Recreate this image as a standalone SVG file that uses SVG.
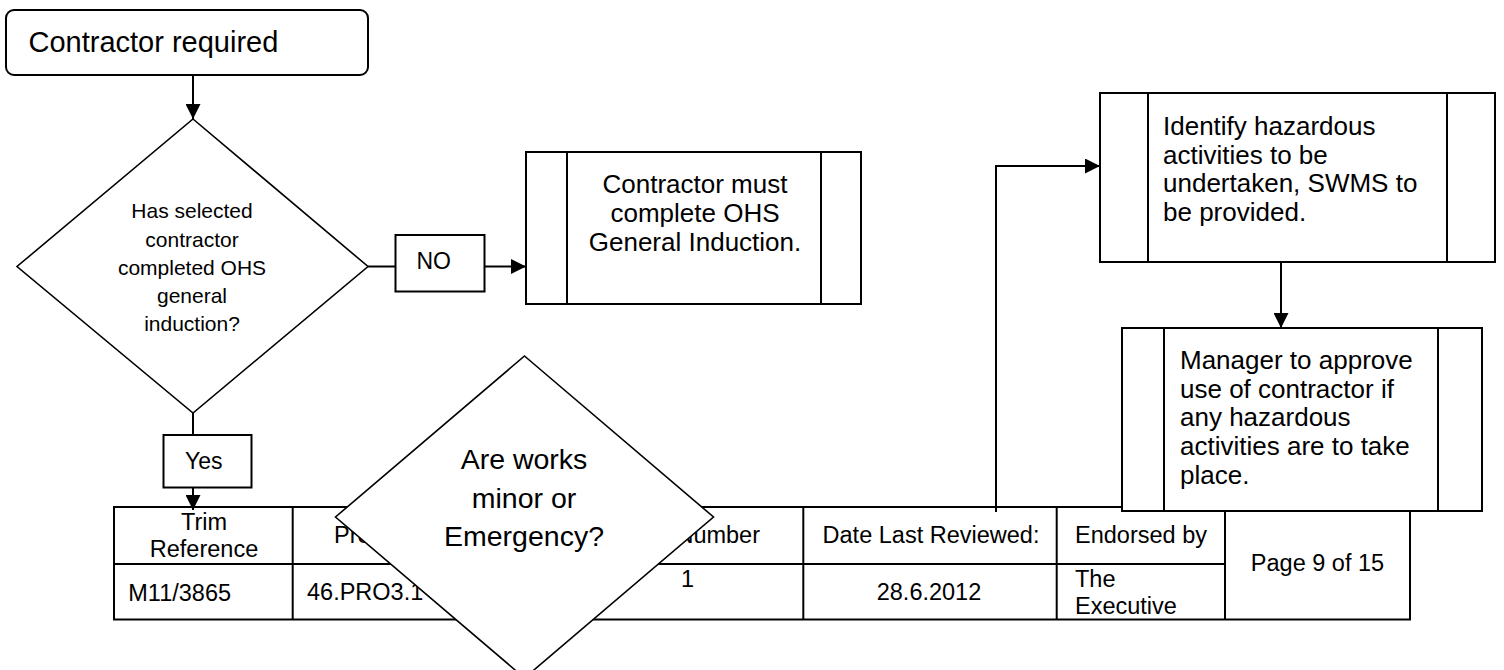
<svg xmlns="http://www.w3.org/2000/svg" width="1504" height="670" viewBox="0 0 1504 670">
<style>
text{font-family:"Liberation Sans",Arial,sans-serif;fill:#000}
.box{fill:#fff;stroke:#000;stroke-width:2}
.dia{fill:#fff;stroke:#000;stroke-width:1.6}
.ln{fill:none;stroke:#000;stroke-width:2}
.conn{fill:none;stroke:#000;stroke-width:2}
.t26{font-size:26px}
.t21{font-size:21px;text-anchor:middle}
.t23{font-size:23px}
.tb{font-size:23.5px}
.mid{text-anchor:middle}
</style>
<defs>
<marker id="arr" viewBox="0 0 15 15" refX="15" refY="7.5" markerWidth="15" markerHeight="15" markerUnits="userSpaceOnUse" orient="auto">
<path d="M0,0 L15,7.5 L0,15 z" fill="#000"/>
</marker>
</defs>
<rect width="1504" height="670" fill="#fff"/>

<g id="table">
<rect class="ln" x="114" y="507" width="1296" height="112.5"/>
<line class="ln" x1="114" y1="564" x2="1225" y2="564"/>
<line class="ln" x1="292.7" y1="507" x2="292.7" y2="619.5"/>
<line class="ln" x1="572" y1="507" x2="572" y2="619.5"/>
<line class="ln" x1="803.3" y1="507" x2="803.3" y2="619.5"/>
<line class="ln" x1="1056.7" y1="507" x2="1056.7" y2="619.5"/>
<line class="ln" x1="1225" y1="507" x2="1225" y2="619.5"/>
<text class="tb mid" x="204" y="530">Trim</text>
<text class="tb mid" x="204" y="557">Reference</text>
<text class="tb" x="128.3" y="601">M11/3865</text>
<text class="tb" x="334" y="543">Pro</text>
<text class="tb" x="307" y="600">46.PRO3.1</text>
<text class="tb" x="760" y="543" text-anchor="end">Number</text>
<text class="tb mid" x="687.5" y="587">1</text>
<text class="tb mid" x="931" y="543">Date Last Reviewed:</text>
<text class="tb mid" x="929" y="600">28.6.2012</text>
<text class="tb mid" x="1141" y="543">Endorsed by</text>
<text class="tb" x="1075" y="587">The</text>
<text class="tb" x="1075" y="614">Executive</text>
<text class="tb mid" x="1317.5" y="571">Page 9 of 15</text>
</g>

<g id="connectors">
<path class="conn" d="M193,75 L193,119" marker-end="url(#arr)"/>
<path class="conn" d="M368,266.5 L396,266.5"/>
<path class="conn" d="M485,266.5 L526,266.5" marker-end="url(#arr)"/>
<path class="conn" d="M193,413 L193,435"/>
<path class="conn" d="M193,487.5 L193,510" marker-end="url(#arr)"/>
<path class="conn" d="M996,512 L996,166 L1100,166" marker-end="url(#arr)"/>
<path class="conn" d="M1281,262 L1281,328" marker-end="url(#arr)"/>
</g>

<g id="start">
<rect class="box" x="6" y="10" width="362" height="65" rx="8"/>
<text x="28.5" y="51.7" style="font-size:29px">Contractor required</text>
</g>

<g id="decision1">
<polygon class="dia" points="193,119 368,266.5 193,413 17,266.5"/>
<text class="t21" x="192" y="218.3">Has selected</text>
<text class="t21" x="192" y="246.5">contractor</text>
<text class="t21" x="192" y="274.7">completed OHS</text>
<text class="t21" x="192" y="302.7">general</text>
<text class="t21" x="192" y="330.5">induction?</text>
</g>

<g id="labelNo">
<rect class="box" x="395.5" y="235" width="89" height="56.5"/>
<text class="t23" x="416.5" y="269.3">NO</text>
</g>

<g id="process1">
<rect class="box" x="526" y="152" width="335" height="152"/>
<line class="ln" x1="567" y1="152" x2="567" y2="304"/>
<line class="ln" x1="821" y1="152" x2="821" y2="304"/>
<text class="t26 mid" x="695" y="193.3">Contractor must</text>
<text class="t26 mid" x="695" y="222">complete OHS</text>
<text class="t26 mid" x="695" y="250.5">General Induction.</text>
</g>

<g id="labelYes">
<rect class="box" x="163.5" y="435" width="88" height="52.5"/>
<text class="t23" x="185" y="469">Yes</text>
</g>

<g id="decision2">
<polygon class="dia" points="524.5,356 713.5,517 524.5,678 335.5,517"/>
<text class="mid" x="524" y="469.3" style="font-size:28.5px">Are works</text>
<text class="mid" x="524" y="507.5" style="font-size:28.5px">minor or</text>
<text class="mid" x="524" y="545.5" style="font-size:28.5px">Emergency?</text>
</g>

<g id="process2">
<rect class="box" x="1100" y="93" width="395" height="169"/>
<line class="ln" x1="1148" y1="93" x2="1148" y2="262"/>
<line class="ln" x1="1447" y1="93" x2="1447" y2="262"/>
<text class="t26" x="1163" y="135">Identify hazardous</text>
<text class="t26" x="1163" y="163.7">activities to be</text>
<text class="t26" x="1163" y="192.4">undertaken, SWMS to</text>
<text class="t26" x="1163" y="221.1">be provided.</text>
</g>

<g id="process3">
<rect class="box" x="1122" y="328" width="360" height="183"/>
<line class="ln" x1="1164" y1="328" x2="1164" y2="511"/>
<line class="ln" x1="1438" y1="328" x2="1438" y2="511"/>
<text class="t26" x="1180" y="369">Manager to approve</text>
<text class="t26" x="1180" y="397.7">use of contractor if</text>
<text class="t26" x="1180" y="426.4">any hazardous</text>
<text class="t26" x="1180" y="455.1">activities are to take</text>
<text class="t26" x="1180" y="483.8">place.</text>
</g>
</svg>
